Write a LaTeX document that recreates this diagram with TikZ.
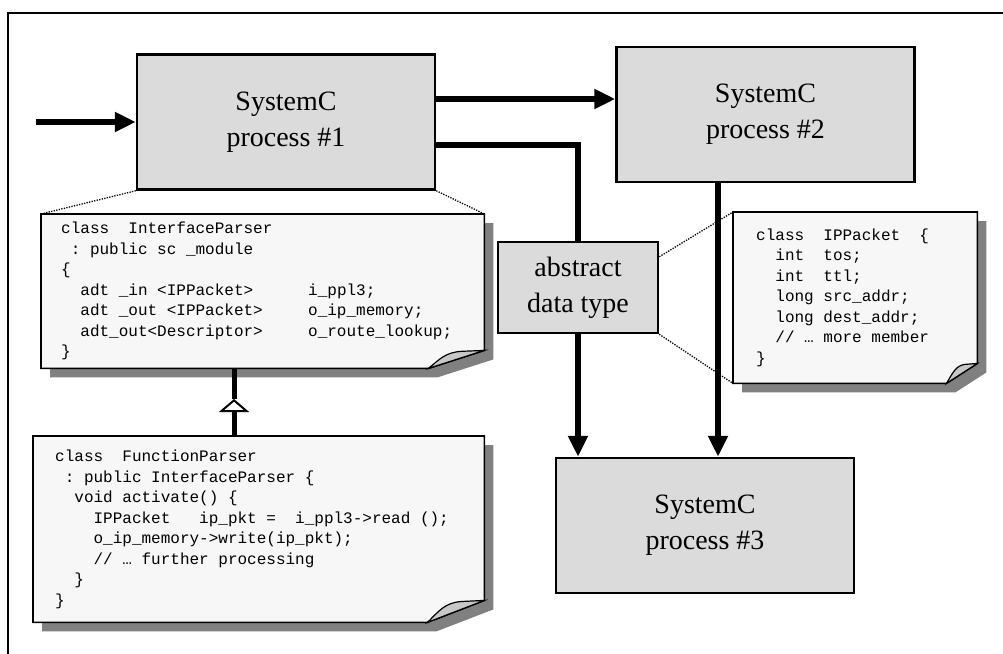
\documentclass[tikz,border=0pt]{standalone}
\usepackage{fontspec}
\setmainfont{Liberation Serif}
\setmonofont{Liberation Mono}
\usetikzlibrary{arrows.meta,backgrounds}

\definecolor{boxgray}{gray}{0.86}
\definecolor{papergray}{gray}{0.97}
\definecolor{shadowgray}{gray}{0.5}
\definecolor{foldgray}{gray}{0.78}

\newcommand{\codeind}[1]{\hspace*{#1\fontcharwd\font`x}}
\newcommand{\codepaper}[3]{%
  \begin{pgfonlayer}{background}
    \fill[shadowgray] ([shift={(9,9)}]#1.north west) -- ([shift={(9,9)}]#1.north east)
      -- ([shift={(9,9-#3)}]#1.south east) -- ([shift={(9-#2,9)}]#1.south east)
      -- ([shift={(9,9)}]#1.south west) -- cycle;
    \filldraw[fill=papergray, line width=1.6pt] (#1.north west) -- (#1.north east)
      -- ([shift={(0,-#3)}]#1.south east) -- ([shift={(-#2,0)}]#1.south east)
      -- (#1.south west) -- cycle;
    \filldraw[fill=foldgray, line width=1.2pt] ([shift={(-#2,0)}]#1.south east)
      -- ([shift={(0,-#3)}]#1.south east) -- ([shift={(-0.4*#2,-0.95*#3)}]#1.south east)
      .. controls ([shift={(-0.7*#2,-0.9*#3)}]#1.south east) and ([shift={(-0.8*#2,-0.5*#3)}]#1.south east)
      .. ([shift={(-#2,0)}]#1.south east) -- cycle;
  \end{pgfonlayer}}

\begin{document}
\begin{tikzpicture}[x=1pt, y=-1pt,
    proc/.style = {draw, line width=2.5pt, fill=boxgray, minimum width=298pt, minimum height=135pt, align=center, font=\fontsize{28}{36}\selectfont},
    note/.style = {anchor=north west, inner ysep=0pt, align=left, font=\ttfamily\fontsize{16}{20.5}\selectfont},
    wire/.style = {line width=5.5pt},
    conn/.style = {wire, -{Triangle[length=21pt, width=19pt]}},
    zoomline/.style = {line width=1.3pt, dash pattern=on 1.3pt off 1.3pt}]
      \useasboundingbox (0,0) rectangle (1003,653);
      \draw[line width=2pt] (8,670) -- (8,13) -- (1020,13);

      \node[proc] (p1) at (286,122) {SystemC\\process \#1};
      \node[proc] (p2) at (765.5,114.5) {SystemC\\process \#2};
      \node[proc] (p3) at (705,525.5) {SystemC\\process \#3};
      \node[proc, minimum width=160pt, minimum height=91pt, inner sep=0pt] (adt) at (578,287.5) {abstract\\data type};

      \node[note, minimum width=443pt, minimum height=154pt, text width=403pt, inner xsep=20pt] (n1) at (41,214) {class\codeind{2}InterfaceParser\\
        \codeind{1}:\codeind{1}public\codeind{1}sc\codeind{1}\_module\\
        \{\\
        \makebox[247pt][l]{\codeind{2}adt\codeind{1}\_in\codeind{1}<IPPacket>}i\_ppl3;\\
        \makebox[247pt][l]{\codeind{2}adt\codeind{1}\_out\codeind{1}<IPPacket>}o\_ip\_memory;\\
        \makebox[247pt][l]{\codeind{2}adt\_out<Descriptor>}o\_route\_lookup;\\
        \}};
      \node[note, minimum width=451pt, minimum height=186pt, text width=407pt, inner xsep=22pt] (n2) at (33,436) {class\codeind{2}FunctionParser\\
        \codeind{1}:\codeind{1}public\codeind{1}InterfaceParser\codeind{1}\{\\
        \codeind{2}void\codeind{1}activate()\codeind{1}\{\\
        \codeind{4}IPPacket\codeind{3}ip\_pkt\codeind{1}=\codeind{2}i\_ppl3->read\codeind{1}();\\
        \codeind{4}o\_ip\_memory->write(ip\_pkt);\\
        \codeind{4}//\codeind{1}…\codeind{1}further\codeind{1}processing\\
        \codeind{2}\}\\
        \}};
      \node[note, minimum width=244pt, minimum height=171pt, text width=198pt, inner xsep=23pt] (n3) at (733,212) {class\codeind{2}IPPacket\codeind{2}\{\\
        \codeind{2}int\codeind{2}tos;\\
        \codeind{2}int\codeind{2}ttl;\\
        \codeind{2}long\codeind{1}src\_addr;\\
        \codeind{2}long\codeind{1}dest\_addr;\\
        \codeind{2}//\codeind{1}…\codeind{1}more\codeind{1}member\\
        \}};
      \codepaper{n1}{56}{18}
      \codepaper{n2}{57}{22}
      \codepaper{n3}{31}{20}

      \coordinate (in) at (36,122);
      \coordinate (a1) at ([yshift=23pt]p1.east);
      \coordinate (b1) at ([yshift=-23pt]p1.east);
      \coordinate (c2) at ([xshift=-47.5pt]p2.south);
      \coordinate (inh) at (234,399);

      \draw[conn] (in) -- (p1.west);
      \draw[conn] (a1) -- (a1 -| p2.west);
      \draw[wire] (b1) -| (adt.north);
      \draw[conn] (adt.south) -- (adt.south |- p3.north);
      \draw[conn] (c2) -- (c2 |- p3.north);

      \draw[line width=5pt] (inh) -- (inh |- n1.south);
      \draw[line width=5pt, -{Triangle[open, fill=white, length=13pt, width=30pt, line width=2pt]}] (inh |- n2.north) -- (inh);

      \draw[zoomline] (p1.south west) -- (n1.north west);
      \draw[zoomline] (p1.south east) -- (n1.north east);
      \draw[zoomline] ([yshift=-16pt]adt.north east) -- (n3.north west);
      \draw[zoomline] (adt.south east) -- (n3.south west);
    \end{tikzpicture}
\end{document}
